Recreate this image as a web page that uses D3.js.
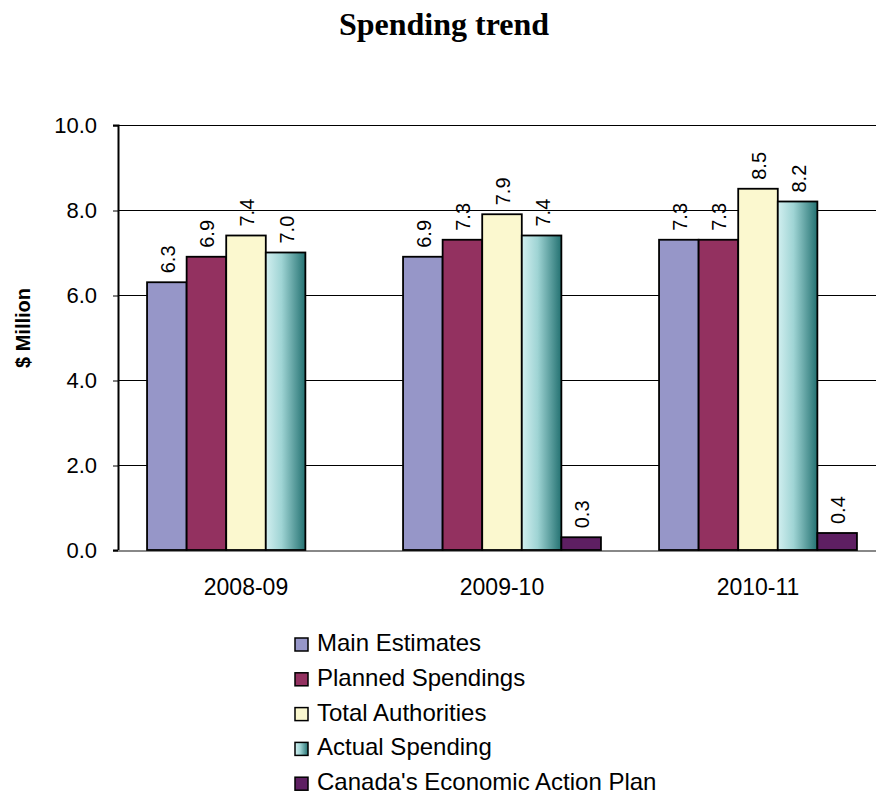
<!DOCTYPE html>
<html>
<head>
<meta charset="utf-8">
<script src="https://cdn.jsdelivr.net/npm/d3@7"></script>
<style>
	body { margin: 0; background: #fff; }
	svg text { font-family: 'Liberation Sans', Arial, sans-serif; }
</style>
</head>
<body>
<div id="chart"></div>
<script>
const years = ['2008-09', '2009-10', '2010-11']
const seriesNames = ['Main Estimates', 'Planned Spendings', 'Total Authorities', 'Actual Spending', "Canada's Economic Action Plan"]
const mainEstimates = [6.3, 6.9, 7.3]
const plannedSpendings = [6.9, 7.3, 7.3]
const totalAuthorities = [7.4, 7.9, 8.5]
const actualSpending = [7.0, 7.4, 8.2]
const economicActionPlan = [null, 0.3, 0.4]
const yTicks = [0, 2, 4, 6, 8, 10]

const values = [mainEstimates, plannedSpendings, totalAuthorities, actualSpending, economicActionPlan]
const fills = ['#9696c8', '#933160', '#fbf8cf', 'url(#actualGrad)', '#5e1f62']

const width = 876
const height = 795
const margin = { top: 125, right: -10, bottom: 245, left: 118 }

const svg = d3.select('#chart')
	.append('svg')
	.attr('width', width)
	.attr('height', height)

// gradient for the Actual Spending bars
const grad = svg.append('defs')
	.append('linearGradient')
	.attr('id', 'actualGrad')
	.attr('x1', '0%').attr('x2', '100%')
	.attr('y1', '0%').attr('y2', '0%')
grad.append('stop').attr('offset', '0%').attr('stop-color', '#d2eff0')
grad.append('stop').attr('offset', '40%').attr('stop-color', '#9fd4d4')
grad.append('stop').attr('offset', '100%').attr('stop-color', '#237171')

const x = d3.scaleBand()
	.domain(years)
	.range([margin.left, width - margin.right])
	.paddingInner(0.227)
	.paddingOuter(0.1135)

const xSub = d3.scaleBand()
	.domain(d3.range(seriesNames.length))
	.range([0, x.bandwidth()])

const y = d3.scaleLinear()
	.domain([0, 10])
	.range([height - margin.bottom, margin.top])

svg.append('text')
	.attr('x', 444)
	.attr('y', 35)
	.attr('text-anchor', 'middle')
	.style('font-family', "'Liberation Serif', 'Times New Roman', serif")
	.style('font-size', '32px')
	.style('font-weight', 'bold')
	.text('Spending trend')

// gridlines
svg.append('g')
	.selectAll('line')
	.data(yTicks.filter(d => d > 0))
	.join('line')
	.attr('x1', margin.left)
	.attr('x2', width)
	.attr('y1', d => y(d) + 0.5)
	.attr('y2', d => y(d) + 0.5)
	.attr('stroke', '#000')
	.attr('stroke-width', 1)

// y axis
const yAxis = svg.append('g')
	.attr('transform', `translate(${margin.left},0)`)
	.call(d3.axisLeft(y).tickValues(yTicks).tickFormat(d3.format('.1f')).tickSize(5).tickPadding(16))
yAxis.select('.domain').attr('stroke', '#000').attr('stroke-width', 2)
yAxis.selectAll('.tick line').attr('stroke', '#000').attr('transform', 'translate(0,0.5)')
yAxis.selectAll('text')
	.style('font-size', '22px')
	.attr('fill', '#000')

svg.append('text')
	.attr('transform', 'translate(30,328) rotate(-90)')
	.attr('text-anchor', 'middle')
	.style('font-size', '20px')
	.style('font-weight', 'bold')
	.text('$ Million')

// x axis baseline
svg.append('line')
	.attr('x1', margin.left)
	.attr('x2', width)
	.attr('y1', y(0) + 1)
	.attr('y2', y(0) + 1)
	.attr('stroke', '#888')
	.attr('stroke-width', 2)

svg.append('g')
	.selectAll('text')
	.data(years)
	.join('text')
	.attr('x', d => x(d) + x.bandwidth() / 2)
	.attr('y', y(0) + 45)
	.attr('text-anchor', 'middle')
	.style('font-size', '23px')
	.text(d => d)

// bars
const barData = []
years.forEach((yr, i) => {
	values.forEach((vals, s) => {
		if (vals[i] != null) barData.push({ year: yr, series: s, value: vals[i] })
	})
})

const bars = svg.append('g')
bars.selectAll('rect')
	.data(barData)
	.join('rect')
	.attr('x', d => x(d.year) + xSub(d.series))
	.attr('y', d => y(d.value))
	.attr('width', xSub.bandwidth())
	.attr('height', d => y(0) - y(d.value))
	.attr('fill', d => fills[d.series])
	.attr('stroke', '#000')
	.attr('stroke-width', 1.8)

bars.selectAll('text')
	.data(barData)
	.join('text')
	.attr('transform', d => `translate(${x(d.year) + xSub(d.series) + xSub.bandwidth() / 2 + 8},${y(d.value) - 9}) rotate(-90)`)
	.attr('text-anchor', 'start')
	.style('font-size', '20px')
	.text(d => d3.format('.1f')(d.value))

// legend
const legend = svg.append('g')
	.attr('transform', 'translate(295,651)')
const rows = legend.selectAll('g')
	.data(seriesNames)
	.join('g')
	.attr('transform', (d, i) => `translate(0,${i * 34.8})`)
rows.append('rect')
	.attr('x', 0)
	.attr('y', -13)
	.attr('width', 13)
	.attr('height', 13)
	.attr('fill', (d, i) => fills[i])
	.attr('stroke', '#000')
	.attr('stroke-width', 1.5)
rows.append('text')
	.attr('x', 22)
	.attr('y', 0)
	.style('font-size', '24px')
	.text(d => d)
</script>
</body>
</html>
